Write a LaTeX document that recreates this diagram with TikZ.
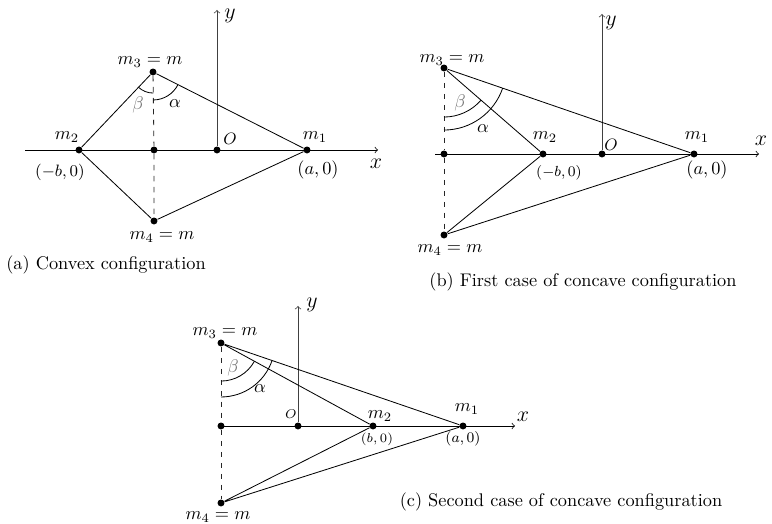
\documentclass[tikz,border=0pt]{standalone}
\usetikzlibrary{angles}
\begin{document}
\begin{tikzpicture}[x=0.5464pt,y=-0.5464pt,
  dot/.style={circle,fill=black,inner sep=0pt,minimum size=3.8pt},
  lbl/.style={inner sep=0pt},
  axlbl/.style={inner sep=0pt,font=\large},
  axis/.style={->,line width=0.4pt},
  yaxis/.style={->,line width=0.4pt,draw=black!75},
  edge/.style={line width=0.45pt},
  dsh/.style={dashed,line width=0.45pt,draw=black!85},
  ang/.style={draw,line width=0.45pt},
  grk/.style={inner sep=0pt,text=black!55},
  captext/.style={inner sep=0pt}]
\useasboundingbox (0,0) rectangle (772,524);

% ---------------- panel (a) ----------------
\coordinate (axs) at (25,150);
\coordinate (axe) at (378,150);
\coordinate (aye) at (217,10);
\node[dot] (am2) at (79,150) {};
\node[dot] (aH)  at (154,150) {};
\node[dot] (aO)  at (217,150) {};
\node[dot] (am1) at (307,150) {};
\node[dot] (am3) at (153,72) {};
\node[dot] (am4) at (154,221) {};
\draw[axis] (axs) -- (axe);
\draw[yaxis] (aO) -- (aye);
\draw[edge] (am3) -- (am2) -- (am4) -- (am1) -- (am3);
\draw[dsh] (am3) -- (aH) -- (am4);
\pic[ang,angle radius=11.5pt] {angle=am2--am3--aH};
\pic[ang,angle radius=15.3pt] {angle=aH--am3--am1};
\node[axlbl] (aly) at (230,16) {$y$};
\node[axlbl] (alx) at (376,164) {$x$};
\node[lbl] (alm3) at (150,62) {$m_3=m$};
\node[lbl] (alm4) at (162,237) {$m_4=m$};
\node[lbl] (alm2) at (67,137) {$m_2$};
\node[lbl] (alm1) at (315,137) {$m_1$};
\node[lbl,font=\small] (alb) at (60,172) {$(-b,0)$};
\node[lbl] (ala) at (318,170) {$(a,0)$};
\node[lbl,font=\small] (alO) at (230,139) {$O$};
\node[grk] (albeta) at (138,105) {$\beta$};
\node[lbl] (alalpha) at (175,104) {$\alpha$};
\node[captext] (acap) at (106,265) {(a) Convex configuration};

% ---------------- panel (b) ----------------
\coordinate (bxs) at (435,154);
\coordinate (bxe) at (759,154);
\coordinate (bye) at (602,14);
\node[dot] (bL)  at (444,154) {};
\node[dot] (bm2) at (543,154) {};
\node[dot] (bO)  at (602,154) {};
\node[dot] (bm1) at (694,154) {};
\node[dot] (bm3) at (444,68) {};
\node[dot] (bm4) at (444,235) {};
\draw[axis] (bxs) -- (bxe);
\draw[yaxis] (bO) -- (bye);
\draw[edge] (bm3) -- (bm2) -- (bm4) -- (bm1) -- (bm3);
\draw[dsh] (bm3) -- (bL) -- (bm4);
\pic[ang,angle radius=26.8pt] {angle=bL--bm3--bm2};
\pic[ang,angle radius=33.9pt] {angle=bL--bm3--bm1};
\node[axlbl] (bly) at (611,23) {$y$};
\node[axlbl] (blx) at (761,141) {$x$};
\node[lbl] (blm3) at (452,60) {$m_3=m$};
\node[lbl] (blm4) at (450,250) {$m_4=m$};
\node[lbl] (blm2) at (545,137) {$m_2$};
\node[lbl] (blm1) at (697,137) {$m_1$};
\node[lbl,font=\footnotesize] (blb) at (559,173) {$(-b,0)$};
\node[lbl] (bla) at (707,170) {$(a,0)$};
\node[lbl,font=\small] (blO) at (611,145) {$O$};
\node[grk] (blbeta) at (460,103) {$\beta$};
\node[lbl] (blalpha) at (483,129) {$\alpha$};
\node[captext] (bcap) at (583,282) {(b) First case of concave configuration};

% ---------------- panel (c) ----------------
\coordinate (cxs) at (218,426);
\coordinate (cxe) at (515,426);
\coordinate (cye) at (298,306);
\node[dot] (cL)  at (221,426) {};
\node[dot] (cO)  at (298,426) {};
\node[dot] (cm2) at (373,426) {};
\node[dot] (cm1) at (463,426) {};
\node[dot] (cm3) at (221,343) {};
\node[dot] (cm4) at (221,503) {};
\draw[axis] (cxs) -- (cxe);
\draw[yaxis] (cO) -- (cye);
\draw[edge] (cm3) -- (cm2) -- (cm4) -- (cm1) -- (cm3);
\draw[dsh] (cm3) -- (cL) -- (cm4);
\pic[ang,angle radius=20.8pt] {angle=cL--cm3--cm2};
\pic[ang,angle radius=29.5pt] {angle=cL--cm3--cm1};
\node[axlbl] (cly) at (312,305) {$y$};
\node[axlbl] (clx) at (523,417) {$x$};
\node[lbl] (clm3) at (225,333) {$m_3=m$};
\node[lbl] (clm4) at (218,517) {$m_4=m$};
\node[lbl] (clm2) at (380,416) {$m_2$};
\node[lbl] (clm1) at (467,409) {$m_1$};
\node[lbl,font=\scriptsize] (clb) at (377,439) {$(b,0)$};
\node[lbl,font=\footnotesize] (cla) at (463,439) {$(a,0)$};
\node[lbl,font=\scriptsize] (clO) at (291,414) {$O$};
\node[grk] (clbeta) at (233,368) {$\beta$};
\node[lbl] (clalpha) at (260,389) {$\alpha$};
\node[captext] (ccap) at (561,502) {(c) Second case of concave configuration};
\end{tikzpicture}
\end{document}
